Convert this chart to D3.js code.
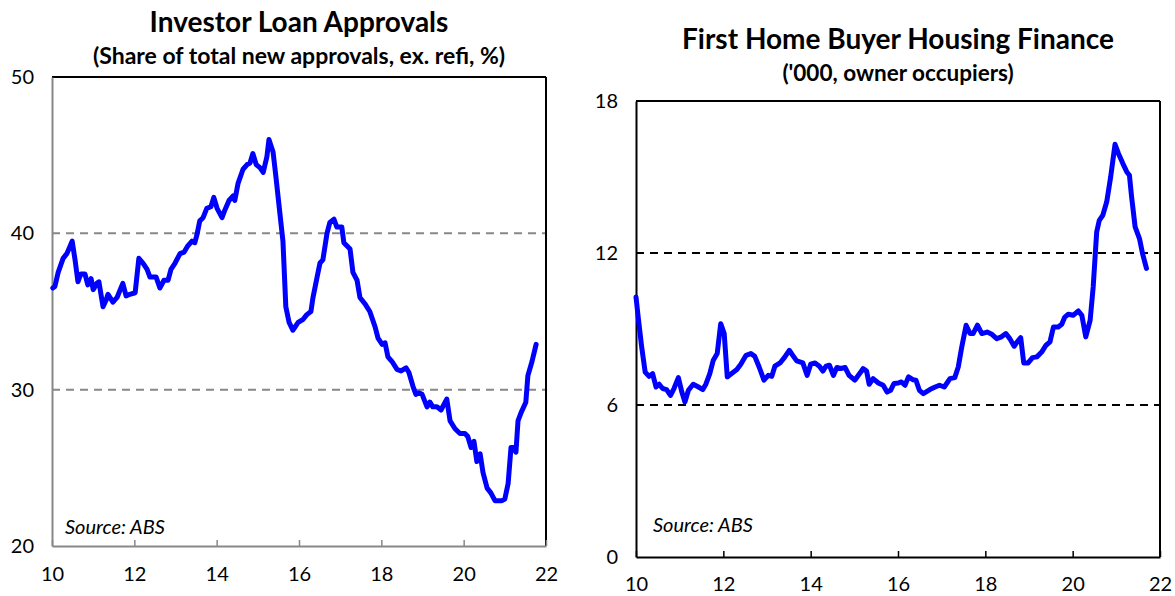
<!DOCTYPE html>
<html>
<head>
<meta charset="utf-8">
<script src="https://cdn.jsdelivr.net/npm/d3@7"></script>
<style>
  body { margin: 0; background: #fff; }
  svg { display: block; font-family: Lato, "Open Sans", sans-serif; }
</style>
</head>
<body>
<svg id="chart" width="1175" height="596"></svg>
<script>
// Investor loan approvals (share of new approvals, %), x in years (10 = 2010)
const investorYears = [10.02, 10.07, 10.15, 10.27, 10.36, 10.41, 10.49, 10.56, 10.63, 10.70, 10.80, 10.87, 10.95, 11.00, 11.09, 11.14,
  11.24, 11.31, 11.36, 11.48, 11.58, 11.72, 11.80, 11.89, 12.02, 12.11, 12.21, 12.31, 12.38, 12.53, 12.62, 12.72, 12.82,
  12.89, 12.99, 13.11, 13.21, 13.30, 13.40, 13.47, 13.52, 13.59, 13.67, 13.76, 13.86, 13.93, 14.01, 14.13, 14.20, 14.30,
  14.40, 14.44, 14.52, 14.64, 14.74, 14.81, 14.88, 14.96, 15.05, 15.13, 15.22, 15.27, 15.37, 15.44, 15.51, 15.61, 15.68,
  15.76, 15.85, 15.98, 16.10, 16.19, 16.29, 16.34, 16.44, 16.51, 16.58, 16.68, 16.75, 16.85, 16.92, 17.04, 17.09, 17.24,
  17.31, 17.41, 17.48, 17.60, 17.72, 17.85, 17.92, 18.02, 18.09, 18.16, 18.26, 18.38, 18.48, 18.60, 18.67, 18.77, 18.84,
  18.91, 18.99, 19.11, 19.18, 19.25, 19.35, 19.45, 19.55, 19.59, 19.67, 19.79, 19.91, 20.03, 20.10, 20.18, 20.25, 20.32,
  20.40, 20.47, 20.57, 20.66, 20.76, 20.93, 21.00, 21.08, 21.15, 21.20, 21.27, 21.32, 21.39, 21.51, 21.56, 21.66, 21.76];
const investorShare = [36.5, 36.6, 37.5, 38.4, 38.7, 39.0, 39.5, 38.3, 36.9, 37.4, 37.4, 36.7, 37.1, 36.4, 36.8, 36.9,
  35.3, 35.7, 36.1, 35.6, 35.9, 36.8, 36.0, 36.1, 36.2, 38.4, 38.1, 37.7, 37.2, 37.2, 36.5, 37.0, 37.0,
  37.7, 38.1, 38.7, 38.8, 39.2, 39.5, 39.4, 39.9, 40.8, 41.0, 41.6, 41.7, 42.3, 41.6, 41.0, 41.5, 42.1,
  42.4, 42.1, 43.2, 44.1, 44.4, 44.5, 45.1, 44.4, 44.2, 43.9, 44.9, 46.0, 45.2, 43.6, 41.9, 39.5, 35.3,
  34.3, 33.8, 34.3, 34.5, 34.8, 35.0, 35.9, 37.2, 38.1, 38.3, 40.0, 40.7, 40.9, 40.4, 40.4, 39.4, 39.0,
  37.5, 37.0, 35.9, 35.5, 35.0, 34.0, 33.3, 32.9, 33.0, 32.1, 31.8, 31.3, 31.2, 31.4, 31.1, 30.2, 29.7,
  29.8, 29.7, 28.9, 29.2, 28.9, 28.9, 28.7, 29.2, 29.4, 28.0, 27.5, 27.2, 27.2, 27.0, 26.3, 26.7, 25.4,
  25.9, 24.7, 23.7, 23.4, 22.9, 22.9, 23.0, 24.0, 26.3, 26.3, 26.0, 28.0, 28.5, 29.2, 30.9, 31.8, 32.9];

// First home buyer housing finance ('000), x in years
const fhbYears = [10.00, 10.05, 10.13, 10.21, 10.30, 10.38, 10.46, 10.53, 10.61, 10.70, 10.79, 10.87, 10.97, 11.05, 11.12,
  11.20, 11.31, 11.43, 11.53, 11.60, 11.69, 11.77, 11.86, 11.94, 12.02, 12.09, 12.19, 12.31, 12.40, 12.52, 12.63, 12.72,
  12.82, 12.93, 13.03, 13.11, 13.18, 13.30, 13.41, 13.51, 13.59, 13.68, 13.82, 13.92, 14.00, 14.10, 14.20, 14.28, 14.35,
  14.43, 14.52, 14.60, 14.69, 14.79, 14.88, 15.01, 15.13, 15.20, 15.28, 15.34, 15.43, 15.55, 15.66, 15.75, 15.83, 15.91,
  16.01, 16.08, 16.16, 16.24, 16.34, 16.41, 16.49, 16.58, 16.73, 16.85, 16.95, 17.06, 17.19, 17.30, 17.38, 17.46, 17.56,
  17.65, 17.72, 17.82, 17.92, 18.04, 18.15, 18.26, 18.37, 18.47, 18.56, 18.66, 18.73, 18.81, 18.88, 18.98, 19.08, 19.18,
  19.29, 19.39, 19.48, 19.56, 19.67, 19.75, 19.82, 19.90, 20.01, 20.13, 20.21, 20.30, 20.40, 20.47, 20.55, 20.61, 20.69,
  20.78, 20.87, 20.97, 21.05, 21.15, 21.24, 21.30, 21.35, 21.43, 21.53, 21.60, 21.69];
const fhbValues = [10.26, 9.47, 8.29, 7.30, 7.13, 7.24, 6.71, 6.82, 6.65, 6.61, 6.38, 6.65, 7.08, 6.51, 6.12,
  6.58, 6.82, 6.71, 6.61, 6.82, 7.24, 7.77, 8.03, 9.21, 8.82, 7.11, 7.24, 7.40, 7.61, 7.96, 8.03, 7.92,
  7.50, 6.98, 7.17, 7.13, 7.53, 7.66, 7.90, 8.16, 7.96, 7.74, 7.66, 7.17, 7.61, 7.66, 7.53, 7.34, 7.53,
  7.57, 7.17, 7.48, 7.44, 7.48, 7.17, 6.98, 7.26, 7.44, 7.34, 6.82, 7.04, 6.87, 6.78, 6.51, 6.58, 6.85,
  6.87, 6.91, 6.78, 7.11, 7.00, 6.98, 6.58, 6.45, 6.61, 6.71, 6.78, 6.71, 7.04, 7.08, 7.50, 8.29, 9.15,
  8.82, 8.82, 9.15, 8.82, 8.88, 8.79, 8.62, 8.69, 8.82, 8.62, 8.32, 8.49, 8.66, 7.66, 7.66, 7.87, 7.90,
  8.09, 8.36, 8.49, 9.08, 9.08, 9.19, 9.47, 9.58, 9.54, 9.71, 9.54, 8.69, 9.34, 10.66, 12.83, 13.29, 13.49,
  14.02, 15.00, 16.29, 15.92, 15.53, 15.20, 15.07, 14.21, 13.03, 12.57, 11.98, 11.39];

const xTicks = [10, 12, 14, 16, 18, 20, 22];
const investorTicks = [20, 30, 40, 50];
const investorGuides = [30, 40];
const fhbTicks = [0, 6, 12, 18];
const fhbGuides = [6, 12];

const svg = d3.select("#chart");
const blue = "#0000ff";
const font = "Lato, 'Open Sans', sans-serif";

function drawPanel(cfg) {
    const x = d3.scaleLinear().domain([10, 22]).range([cfg.left, cfg.right]);
    const y = d3.scaleLinear().domain(cfg.yDomain).range([cfg.bottom, cfg.top]);
    const g = svg.append("g");
    const cx = (cfg.left + cfg.right) / 2;

    // Titles
    g.append("text").attr("x", cx).attr("y", cfg.titleY)
        .attr("text-anchor", "middle").attr("font-weight", "bold").attr("font-size", 28)
        .attr("fill", "#000").text(cfg.title);
    g.append("text").attr("x", cx).attr("y", cfg.subY)
        .attr("text-anchor", "middle").attr("font-weight", "bold").attr("font-size", cfg.subSize)
        .attr("fill", "#000").text(cfg.subtitle);

    // Dashed guides
    g.selectAll(".guide").data(cfg.guides).enter().append("line")
        .attr("x1", cfg.left).attr("x2", cfg.right)
        .attr("y1", d => y(d)).attr("y2", d => y(d))
        .attr("stroke", cfg.guideColor).attr("stroke-width", 2)
        .attr("stroke-dasharray", "8,6");

    // Frame: top and right
    g.append("line").attr("x1", cfg.left).attr("x2", cfg.right).attr("y1", cfg.top).attr("y2", cfg.top)
        .attr("stroke", "#000").attr("stroke-width", 2);
    g.append("line").attr("x1", cfg.right).attr("x2", cfg.right).attr("y1", cfg.top).attr("y2", cfg.bottom)
        .attr("stroke", "#000").attr("stroke-width", 2);

    // Bottom axis with inward ticks
    const xAxis = g.append("g").attr("transform", `translate(0,${cfg.bottom})`)
        .call(d3.axisBottom(x).tickValues(xTicks).tickSizeInner(-6).tickSizeOuter(0).tickPadding(cfg.xPad));
    xAxis.select(".domain").attr("stroke", cfg.axisColor).attr("stroke-width", 2);
    xAxis.selectAll(".tick line").attr("stroke", cfg.axisColor).attr("stroke-width", 1.5);
    xAxis.selectAll(".tick text").attr("font-size", 20).attr("fill", "#000")
        .attr("font-family", font).attr("dy", "0.71em");

    // Left axis, no ticks
    const yAxis = g.append("g").attr("transform", `translate(${cfg.left},0)`)
        .call(d3.axisLeft(y).tickValues(cfg.ticks).tickSize(0).tickPadding(cfg.labelPad));
    yAxis.select(".domain").attr("stroke", cfg.axisColor).attr("stroke-width", 2);
    yAxis.selectAll(".tick text").attr("font-size", 20).attr("fill", "#000")
        .attr("font-family", font);

    // Series
    const pts = cfg.xs.map((d, i) => [d, cfg.ys[i]]);
    g.append("path").datum(pts)
        .attr("fill", "none").attr("stroke", blue).attr("stroke-width", 5)
        .attr("stroke-linejoin", "round").attr("stroke-linecap", "round")
        .attr("d", d3.line().x(d => x(d[0])).y(d => y(d[1])));

    g.append("text").attr("x", cfg.left + cfg.sourceDx).attr("y", cfg.sourceY)
        .attr("font-style", "italic").attr("font-size", 20).attr("fill", "#000")
        .text("Source: ABS");
}

drawPanel({
    left: 52, right: 546, top: 77, bottom: 546,
    yDomain: [20, 50], ticks: investorTicks, guides: investorGuides,
    xs: investorYears, ys: investorShare,
    title: "Investor Loan Approvals", subtitle: "(Share of total new approvals, ex. refi, %)",
    titleY: 32, subY: 64, subSize: 23, sourceY: 534, sourceDx: 13, labelPad: 18, xPad: 21,
    axisColor: "#888", guideColor: "#888"
});

drawPanel({
    left: 636, right: 1160, top: 101, bottom: 557,
    yDomain: [0, 18], ticks: fhbTicks, guides: fhbGuides,
    xs: fhbYears, ys: fhbValues,
    title: "First Home Buyer Housing Finance", subtitle: "('000, owner occupiers)",
    titleY: 49, subY: 81, subSize: 22.5, sourceY: 532, sourceDx: 17, labelPad: 18, xPad: 20,
    axisColor: "#000", guideColor: "#000"
});
</script>
</body>
</html>
